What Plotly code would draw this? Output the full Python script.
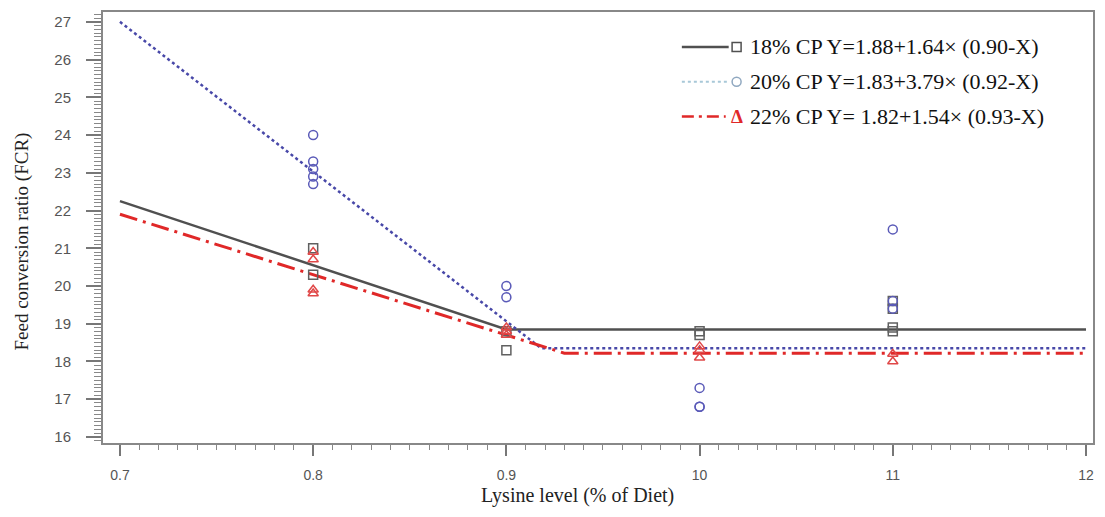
import plotly.graph_objects as go

# ---- data ----
# regression (broken-line) vertices
cp18_line_x = [0.70, 0.90, 1.20]
cp18_line_y = [2.225, 1.885, 1.885]
cp20_line_x = [0.70, 0.918, 1.20]
cp20_line_y = [2.70, 1.835, 1.835]
cp22_line_x = [0.70, 0.93, 1.20]
cp22_line_y = [2.19, 1.822, 1.822]

# observed points
cp18_x = [0.8, 0.8, 0.9, 0.9, 1.0, 1.0, 1.1, 1.1, 1.1, 1.1]
cp18_y = [2.10, 2.03, 1.83, 1.88, 1.88, 1.87, 1.96, 1.94, 1.89, 1.88]
cp20_x = [0.8, 0.8, 0.8, 0.8, 0.8, 0.9, 0.9, 1.0, 1.0, 1.0, 1.1, 1.1, 1.1]
cp20_y = [2.40, 2.33, 2.31, 2.29, 2.27, 2.00, 1.97, 1.73, 1.68, 1.68, 2.15, 1.96, 1.94]
cp22_x = [0.8, 0.8, 0.8, 0.8, 0.9, 0.9, 0.9, 1.0, 1.0, 1.0, 1.1, 1.1]
cp22_y = [2.09, 2.07, 1.99, 1.98, 1.89, 1.88, 1.87, 1.84, 1.83, 1.81, 1.82, 1.80]

legend_labels = ["18% CP Y=1.88+1.64× (0.90-X)",
                 "20% CP Y=1.83+3.79× (0.92-X)",
                 "22% CP Y= 1.82+1.54× (0.93-X)"]

x_ticks = [0.7, 0.8, 0.9, 1.0, 1.1, 1.2]
x_ticktext = ["0.7", "0.8", "0.9", "10", "11", "12"]
y_ticks = [1.6, 1.7, 1.8, 1.9, 2.0, 2.1, 2.2, 2.3, 2.4, 2.5, 2.6, 2.7]
y_ticktext = ["16", "17", "18", "19", "20", "21", "22", "23", "24", "25", "26", "27"]

GRAY = "#505050"
BLUE = "#4848a8"
RED = "#e02828"

fig = go.Figure()
fig.add_trace(go.Scatter(x=cp18_line_x, y=cp18_line_y, mode="lines",
                         line=dict(color=GRAY, width=2.5), showlegend=False))
fig.add_trace(go.Scatter(x=cp20_line_x, y=cp20_line_y, mode="lines",
                         line=dict(color=BLUE, width=2.5, dash="dot"), showlegend=False))
fig.add_trace(go.Scatter(x=cp22_line_x, y=cp22_line_y, mode="lines",
                         line=dict(color=RED, width=3, dash="18px,6px,3px,6px"), showlegend=False))

fig.add_trace(go.Scatter(x=cp18_x, y=cp18_y, mode="markers", showlegend=False,
                         marker=dict(symbol="square-open", size=9, color="#606060",
                                     line=dict(width=1.5))))
fig.add_trace(go.Scatter(x=cp20_x, y=cp20_y, mode="markers", showlegend=False,
                         marker=dict(symbol="circle-open", size=9, color="#5a5ab8",
                                     line=dict(width=1.5))))
fig.add_trace(go.Scatter(x=cp22_x, y=cp22_y, mode="markers", showlegend=False,
                         marker=dict(symbol="triangle-up-open", size=9, color="#e04848",
                                     line=dict(width=1.5))))

# ---- custom legend (layout decoration) ----
rows_y = [0.919, 0.838, 0.7575]
line_x0, line_x1 = 0.5847, 0.632
sym_x = 0.640
text_x = 0.652
shapes = [
    dict(type="line", xref="paper", yref="paper", x0=line_x0, x1=line_x1,
         y0=rows_y[0], y1=rows_y[0], line=dict(color=GRAY, width=2.5)),
    dict(type="rect", xref="paper", yref="paper", xsizemode="pixel", ysizemode="pixel",
         xanchor=sym_x, yanchor=rows_y[0], x0=-4.5, x1=4.5, y0=-4.5, y1=4.5,
         line=dict(color=GRAY, width=1.5)),
    dict(type="line", xref="paper", yref="paper", x0=line_x0, x1=line_x1,
         y0=rows_y[1], y1=rows_y[1], line=dict(color="#a8c8d8", width=2, dash="dot")),
    dict(type="circle", xref="paper", yref="paper", xsizemode="pixel", ysizemode="pixel",
         xanchor=sym_x, yanchor=rows_y[1], x0=-4.5, x1=4.5, y0=-4.5, y1=4.5,
         line=dict(color="#90a8c0", width=1.5)),
    dict(type="line", xref="paper", yref="paper", x0=line_x0, x1=line_x1 - 0.003,
         y0=rows_y[2], y1=rows_y[2], line=dict(color=RED, width=2.5, dash="12px,5px,3px,5px")),
]
annotations = []
for i, lab in enumerate(legend_labels):
    annotations.append(dict(text=lab, xref="paper", yref="paper", x=text_x, y=rows_y[i],
                            xanchor="left", yanchor="middle", showarrow=False,
                            font=dict(family="Liberation Serif", size=22, color="#111")))
annotations.append(dict(text="<b>Δ</b>", xref="paper", yref="paper", x=sym_x, y=rows_y[2],
                        xanchor="center", yanchor="middle", showarrow=False,
                        font=dict(family="Liberation Serif", size=19, color=RED)))
annotations.append(dict(text="Lysine level (% of Diet)", xref="paper", yref="paper",
                        x=0.4793, y=-0.1224, xanchor="center", yanchor="middle",
                        showarrow=False,
                        font=dict(family="Liberation Serif", size=20, color="#222")))
annotations.append(dict(text="Feed conversion ratio (FCR)", xref="paper", yref="paper",
                        x=-0.0817, y=0.4677, xanchor="center", yanchor="middle",
                        textangle=-90, showarrow=False,
                        font=dict(family="Liberation Serif", size=19, color="#222")))

# page body adds an 8px margin; size the figure so the page does not overflow
fig.update_layout(
    width=1089, height=501,
    margin=dict(l=95, r=2, t=2, b=66),
    paper_bgcolor="white", plot_bgcolor="white",
    showlegend=False,
    shapes=shapes, annotations=annotations,
)
fig.update_xaxes(range=[0.69122, 1.20362], showgrid=False, zeroline=False,
                 tickmode="array", tickvals=x_ticks, ticktext=x_ticktext,
                 ticks="outside", ticklen=11, tickwidth=1.5, tickcolor="#777",
                 showline=True, linecolor="#888", linewidth=2, mirror=True,
                 ticklabelstandoff=7,
                 tickfont=dict(family="Liberation Sans", size=14, color="#555"),
                 minor=dict(tickmode="linear", tick0=0.7, dtick=0.01, ticks="outside",
                            ticklen=5, tickwidth=1, tickcolor="#888"))
fig.update_yaxes(range=[1.584, 2.726], showgrid=False, zeroline=False,
                 tickmode="array", tickvals=y_ticks, ticktext=y_ticktext,
                 ticks="outside", ticklen=15, tickwidth=1.5, tickcolor="#777",
                 showline=True, linecolor="#888", linewidth=2, mirror=True,
                 ticklabelstandoff=12,
                 tickfont=dict(family="Liberation Sans", size=15, color="#555"),
                 minor=dict(tickmode="linear", tick0=1.6, dtick=0.01, ticks="outside",
                            ticklen=7, tickwidth=1, tickcolor="#888"))

fig.write_html("out.html")
